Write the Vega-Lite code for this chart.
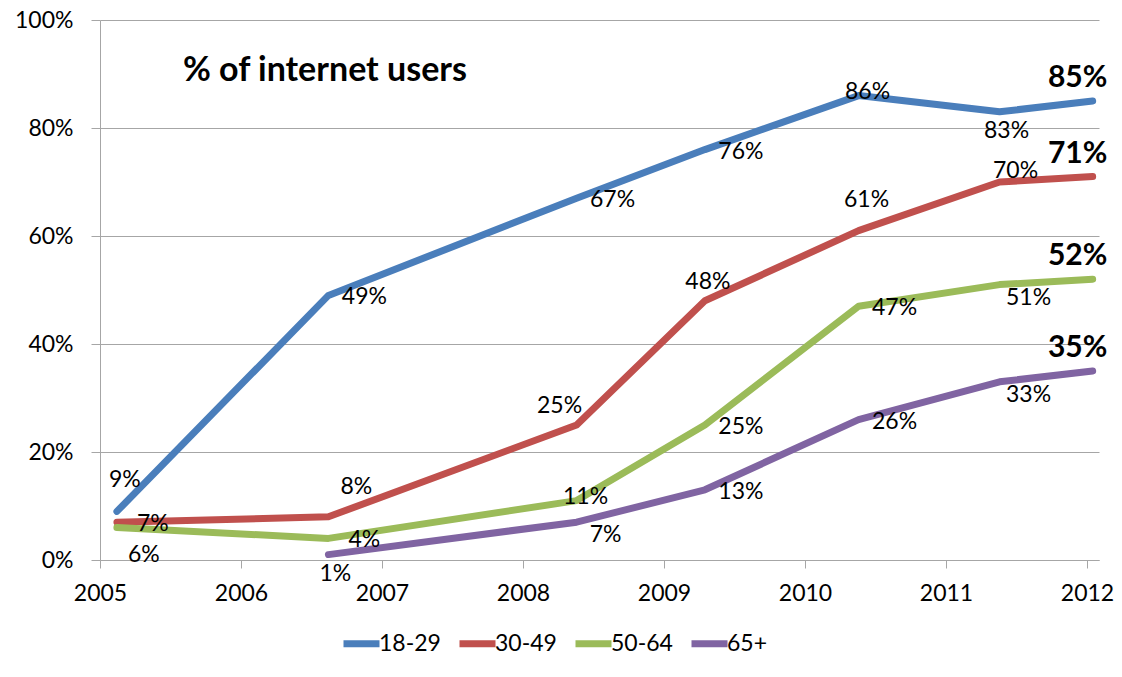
{
  "$schema": "https://vega.github.io/schema/vega-lite/v6.json",
  "width": 999,
  "height": 540,
  "autosize": {"type": "none"},
  "padding": {"left": 100, "top": 20, "right": 23, "bottom": 117},
  "background": "white",
  "config": {"font": "Lato", "view": {"stroke": null}, "text": {"font": "Lato", "fontSize": 23, "color": "black", "baseline": "middle", "align": "center"}},
  "title": {"text": "% of internet users", "anchor": "start", "frame": "group", "orient": "top", "offset": 0, "baseline": "middle", "dx": 83, "dy": 96, "fontSize": 34, "fontWeight": "bold", "color": "black", "font": "Lato"},
  "data": {"values": [
    {"group": "18-29", "year": 2005.12, "pct": 0.09, "pos": "above"},
    {"group": "18-29", "year": 2006.62, "pct": 0.49, "pos": "right"},
    {"group": "18-29", "year": 2008.38, "pct": 0.67, "pos": "right"},
    {"group": "18-29", "year": 2009.29, "pct": 0.76, "pos": "right"},
    {"group": "18-29", "year": 2010.38, "pct": 0.86, "pos": "center"},
    {"group": "18-29", "year": 2011.38, "pct": 0.83, "pos": "below"},
    {"group": "18-29", "year": 2012.04, "pct": 0.85, "pos": "final"},
    {"group": "30-49", "year": 2005.12, "pct": 0.07, "pos": "right"},
    {"group": "30-49", "year": 2006.62, "pct": 0.08, "pos": "aboveRight"},
    {"group": "30-49", "year": 2008.38, "pct": 0.25, "pos": "aboveLeft"},
    {"group": "30-49", "year": 2009.29, "pct": 0.48, "pos": "aboveNear"},
    {"group": "30-49", "year": 2010.38, "pct": 0.61, "pos": "above"},
    {"group": "30-49", "year": 2011.38, "pct": 0.70, "pos": "rightUp"},
    {"group": "30-49", "year": 2012.04, "pct": 0.71, "pos": "final"},
    {"group": "50-64", "year": 2005.12, "pct": 0.06, "pos": "belowRightFar"},
    {"group": "50-64", "year": 2006.62, "pct": 0.04, "pos": "right"},
    {"group": "50-64", "year": 2008.38, "pct": 0.11, "pos": "center"},
    {"group": "50-64", "year": 2009.29, "pct": 0.25, "pos": "right"},
    {"group": "50-64", "year": 2010.38, "pct": 0.47, "pos": "right"},
    {"group": "50-64", "year": 2011.38, "pct": 0.51, "pos": "belowRight"},
    {"group": "50-64", "year": 2012.04, "pct": 0.52, "pos": "final"},
    {"group": "65+", "year": 2006.62, "pct": 0.01, "pos": "below"},
    {"group": "65+", "year": 2008.38, "pct": 0.07, "pos": "belowRight"},
    {"group": "65+", "year": 2009.29, "pct": 0.13, "pos": "right"},
    {"group": "65+", "year": 2010.38, "pct": 0.26, "pos": "right"},
    {"group": "65+", "year": 2011.38, "pct": 0.33, "pos": "belowRight"},
    {"group": "65+", "year": 2012.04, "pct": 0.35, "pos": "final"}
  ]},
  "encoding": {
    "x": {"field": "year", "type": "quantitative", "scale": {"domain": [2005, 2012.085], "nice": false, "zero": false},
      "axis": {"title": null, "values": [2005, 2006, 2007, 2008, 2009, 2010, 2011, 2012], "format": "d", "grid": false, "domainColor": "#a6a6a6", "tickColor": "#a6a6a6", "tickSize": 8, "labelFontSize": 23, "labelColor": "black", "labelPadding": 14, "labelDx": 6, "labelFlush": false, "labelFont": "Lato"}},
    "y": {"field": "pct", "type": "quantitative", "scale": {"domain": [0, 1], "nice": false},
      "axis": {"title": null, "values": [0, 0.2, 0.4, 0.6, 0.8, 1], "format": ".0%", "grid": true, "gridColor": "#a6a6a6", "domainColor": "#a6a6a6", "tickColor": "#a6a6a6", "tickSize": 9, "labelFontSize": 23, "labelColor": "black", "labelPadding": 18, "labelFont": "Lato"}}
  },
  "layer": [
    {"mark": {"type": "line", "strokeWidth": 7, "strokeCap": "round", "strokeJoin": "round"},
      "encoding": {"color": {"field": "group", "type": "nominal",
        "scale": {"domain": ["18-29", "30-49", "50-64", "65+"], "range": ["#4a7ebb", "#c0504d", "#9bbb59", "#8064a2"]},
        "legend": {"orient": "none", "legendX": 240, "legendY": 602, "direction": "horizontal", "title": null, "symbolType": "stroke", "symbolSize": 1296, "symbolStrokeWidth": 7, "labelFontSize": 23, "labelFont": "Lato", "labelColor": "black", "labelOffset": -4, "columnPadding": 4, "padding": 0}}}},
    {"transform": [{"filter": "datum.pos === 'right'"}], "mark": {"type": "text", "dx": 36, "dy": 2}, "encoding": {"text": {"field": "pct", "type": "quantitative", "format": ".0%"}}},
    {"transform": [{"filter": "datum.pos === 'center'"}], "mark": {"type": "text", "dx": 9, "dy": -4}, "encoding": {"text": {"field": "pct", "type": "quantitative", "format": ".0%"}}},
    {"transform": [{"filter": "datum.pos === 'above'"}], "mark": {"type": "text", "dx": 8, "dy": -31}, "encoding": {"text": {"field": "pct", "type": "quantitative", "format": ".0%"}}},
    {"transform": [{"filter": "datum.pos === 'aboveRight'"}], "mark": {"type": "text", "dx": 28, "dy": -30}, "encoding": {"text": {"field": "pct", "type": "quantitative", "format": ".0%"}}},
    {"transform": [{"filter": "datum.pos === 'aboveLeft'"}], "mark": {"type": "text", "dx": -17, "dy": -19}, "encoding": {"text": {"field": "pct", "type": "quantitative", "format": ".0%"}}},
    {"transform": [{"filter": "datum.pos === 'aboveNear'"}], "mark": {"type": "text", "dx": 3, "dy": -19}, "encoding": {"text": {"field": "pct", "type": "quantitative", "format": ".0%"}}},
    {"transform": [{"filter": "datum.pos === 'rightUp'"}], "mark": {"type": "text", "dx": 16, "dy": -11}, "encoding": {"text": {"field": "pct", "type": "quantitative", "format": ".0%"}}},
    {"transform": [{"filter": "datum.pos === 'below'"}], "mark": {"type": "text", "dx": 7, "dy": 19}, "encoding": {"text": {"field": "pct", "type": "quantitative", "format": ".0%"}}},
    {"transform": [{"filter": "datum.pos === 'belowRight'"}], "mark": {"type": "text", "dx": 29, "dy": 13}, "encoding": {"text": {"field": "pct", "type": "quantitative", "format": ".0%"}}},
    {"transform": [{"filter": "datum.pos === 'belowRightFar'"}], "mark": {"type": "text", "dx": 27, "dy": 27}, "encoding": {"text": {"field": "pct", "type": "quantitative", "format": ".0%"}}},
    {"transform": [{"filter": "datum.pos === 'final'"}], "mark": {"type": "text", "dx": -15, "dy": -23, "fontSize": 30, "fontWeight": "bold"}, "encoding": {"text": {"field": "pct", "type": "quantitative", "format": ".0%"}}}
  ]
}
